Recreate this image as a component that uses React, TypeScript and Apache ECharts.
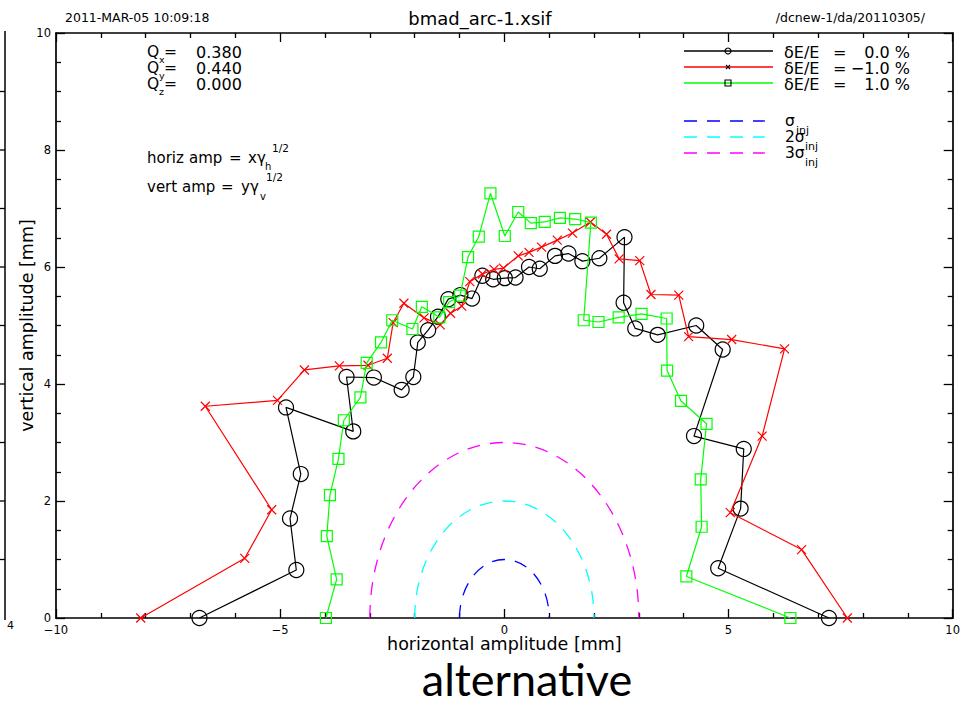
import React, { useEffect, useRef } from "react";
import * as echarts from "echarts";

// ---- data ----
const nominalPts: [number, number][] = [
  [-6.8, 0], [-4.64, 0.82], [-4.78, 1.7], [-4.54, 2.46], [-4.87, 3.6], [-3.37, 3.19],
  [-3.52, 4.12], [-2.91, 4.11], [-2.29, 3.9], [-2.03, 4.12], [-1.93, 4.71], [-1.7, 4.92],
  [-1.48, 5.15], [-1.25, 5.45], [-0.98, 5.52], [-0.72, 5.46], [-0.49, 5.85], [-0.25, 5.79],
  [0.01, 5.81], [0.25, 5.82], [0.55, 6.0], [0.79, 5.97], [1.13, 6.19], [1.43, 6.23],
  [1.74, 6.1], [2.12, 6.15], [2.68, 6.51], [2.66, 5.39], [2.92, 4.95], [3.42, 4.84],
  [4.28, 5.0], [4.87, 4.59], [4.23, 3.11], [5.34, 2.89], [5.27, 1.87], [4.77, 0.85], [7.24, 0],
];
const minusPts: [number, number][] = [
  [-8.11, 0], [-5.79, 1.02], [-5.19, 1.85], [-6.67, 3.62], [-5.06, 3.72], [-4.46, 4.24],
  [-3.68, 4.31], [-3.04, 4.32], [-2.61, 4.44], [-2.48, 5.05], [-2.24, 5.38], [-1.79, 5.13],
  [-1.43, 5.01], [-1.2, 5.21], [-0.95, 5.33], [-0.77, 5.75], [-0.49, 5.88], [-0.23, 5.96],
  [-0.02, 5.98], [0.31, 6.19], [0.55, 6.25], [0.83, 6.34], [1.18, 6.46], [1.52, 6.58],
  [1.92, 6.77], [2.28, 6.56], [2.56, 6.14], [3.02, 6.11], [3.27, 5.53], [3.89, 5.52],
  [4.11, 4.81], [5.07, 4.76], [6.25, 4.6], [5.75, 3.11], [5.04, 1.8], [6.63, 1.17], [7.65, 0],
];
const plusPts: [number, number][] = [
  [-3.98, 0], [-3.74, 0.66], [-3.96, 1.4], [-3.89, 2.1], [-3.7, 2.72], [-3.58, 3.38],
  [-3.21, 3.77], [-3.07, 4.36], [-2.75, 4.71], [-2.5, 5.09], [-2.05, 4.94], [-1.84, 5.32],
  [-1.45, 5.14], [-1.23, 5.4], [-0.99, 5.51], [-0.81, 6.17], [-0.57, 6.52], [-0.31, 7.26],
  [0.01, 6.53], [0.31, 6.94], [0.59, 6.75], [0.9, 6.77], [1.24, 6.84], [1.58, 6.82],
  [1.93, 6.76], [1.77, 5.09], [2.1, 5.06], [2.55, 5.14], [3.06, 5.2], [3.62, 5.12],
  [3.63, 4.23], [3.94, 3.71], [4.51, 3.32], [4.38, 2.37], [4.4, 1.56], [4.06, 0.71], [6.38, 0],
];
const sigmaRadii = [1, 2, 3];
const sigmaLabels = ["", "2", "3"];
const sigmaColors = ["#0000ff", "#00ffff", "#ff00ff"];
const seriesLabels = ["0.0 %", "\u22121.0 %", "1.0 %"];
const seriesColors = ["#000000", "#ff0000", "#00ff00"];
const tuneLabels = ["x", "y", "z"];
const tuneValues = ["0.380", "0.440", "0.000"];
const xRange = { min: -10, max: 10, interval: 5, minorSplit: 5 };
const yRange = { min: 0, max: 10, interval: 2, minorSplit: 4 };

const FONT = "DejaVu Sans";

function txt(text: string, x: number, y: number, size: number, extra: any = {}) {
  const align = extra.align || "left";
  const valign = extra.valign || "middle";
  const style: any = {
    text,
    fontSize: size,
    fontFamily: extra.family || FONT,
    fontWeight: extra.weight || "normal",
    fill: extra.color || "#000",
    align,
    verticalAlign: valign,
    textAlign: align,
    textVerticalAlign: valign,
    lineHeight: extra.lineHeight || Math.round(size * 0.9),
  };
  return { type: "text", x, y, silent: true, style };
}
function ln(x1: number, y1: number, x2: number, y2: number, stroke: string, extra: any = {}) {
  return {
    type: "line",
    silent: true,
    shape: { x1, y1, x2, y2 },
    style: { stroke, lineWidth: extra.width || 1.3, lineDash: extra.dash || null },
  };
}

export default function App() {
  const ref = useRef<HTMLDivElement>(null);
  useEffect(() => {
    document.body.style.margin = "0";
    if (!ref.current) return;
    const chart = echarts.init(ref.current, null, { renderer: "svg" });

    const fmt = (v: number) => (v < 0 ? "\u2212" + Math.abs(v) : String(v));
    const axisCommon = {
      type: "value",
      splitLine: { show: false },
      axisLine: { show: true, onZero: false, lineStyle: { color: "#000", width: 1.7 } },
      axisTick: { show: true, inside: true, length: 9, lineStyle: { color: "#000", width: 1.3 } },
    };
    const xCommon = {
      ...axisCommon,
      min: xRange.min,
      max: xRange.max,
      interval: xRange.interval,
      minorTick: { show: true, splitNumber: xRange.minorSplit, length: 5, lineStyle: { color: "#000", width: 1.3 } },
    };
    const yCommon = {
      ...axisCommon,
      min: yRange.min,
      max: yRange.max,
      interval: yRange.interval,
      minorTick: { show: true, splitNumber: yRange.minorSplit, length: 5, lineStyle: { color: "#000", width: 1.3 } },
    };
    const labelStyle = { color: "#000", fontFamily: FONT, fontSize: 11.5, formatter: fmt };

    const crossPath = "path://M0,0L10,10M10,0L0,10";
    const mkSeries = (data: [number, number][], idx: number) => {
      const color = seriesColors[idx];
      const symbol = idx === 0 ? "circle" : idx === 1 ? crossPath : "rect";
      const size = idx === 0 ? 15 : idx === 1 ? 9 : 11;
      return {
        type: "line",
        data,
        clip: false,
        symbol,
        symbolSize: size,
        showAllSymbol: true,
        lineStyle: { color, width: 1.2 },
        itemStyle: { color: idx === 1 ? color : "rgba(0,0,0,0)", borderColor: color, borderWidth: 1.2 },
        emphasis: { disabled: true },
        z: 3 + idx,
      };
    };

    const graphic: any[] = [];
    // fragment of neighbouring plot at left edge
    graphic.push(ln(5, 31, 5, 620, "#000", { width: 1.5 }));
    for (let k = 1; k <= 9; k++) {
      const y = 618 - k * 58.5;
      graphic.push(ln(0, y, 5, y, "#000", { width: 1.3 }));
    }
    graphic.push(txt("4", 7, 625, 11));
    // header texts
    graphic.push(txt("2011-MAR-05 10:09:18", 65, 17, 12.5));
    graphic.push(txt("bmad_arc-1.xsif", 480, 18, 18, { align: "center" }));
    graphic.push(txt("/dcnew-1/da/20110305/", 925, 17, 12.5, { align: "right" }));
    // tunes
    tuneLabels.forEach((s, i) => {
      const y = 52 + i * 16;
      graphic.push(txt("Q", 147, y, 15.5));
      graphic.push(txt(s, 159, y + 7, 9.5));
      graphic.push(txt("=", 164, y, 15.5));
      graphic.push(txt(tuneValues[i], 196, y, 16));
    });
    // amplitude definitions
    graphic.push(txt("horiz", 147, 158, 15));
    graphic.push(txt("amp", 189, 158, 15));
    graphic.push(txt("=", 229, 158, 15));
    graphic.push(txt("x\u03b3", 248, 158, 15));
    graphic.push(txt("h", 265, 166, 10));
    graphic.push(txt("1/2", 272, 148, 10.5));
    graphic.push(txt("vert", 147, 187, 15));
    graphic.push(txt("amp", 182, 187, 15));
    graphic.push(txt("=", 221, 187, 15));
    graphic.push(txt("y\u03b3", 241, 187, 15));
    graphic.push(txt("v", 260, 196, 10));
    graphic.push(txt("1/2", 266, 177, 10.5));
    // legend for energy offsets
    seriesColors.forEach((c, i) => {
      const y = 51 + i * 16;
      graphic.push(ln(684, y, 773, y, c, { width: 1.3 }));
      if (i === 0) {
        graphic.push({ type: "circle", silent: true, shape: { cx: 728, cy: y, r: 3 }, style: { fill: "none", stroke: "#000", lineWidth: 1.1 } });
      } else if (i === 1) {
        graphic.push(ln(726, y - 2, 730, y + 2, "#000", { width: 1.1 }));
        graphic.push(ln(730, y - 2, 726, y + 2, "#000", { width: 1.1 }));
      } else {
        graphic.push({ type: "rect", silent: true, shape: { x: 725, y: y - 3, width: 6, height: 6 }, style: { fill: "none", stroke: "#000", lineWidth: 1.1 } });
      }
      graphic.push(txt("\u03b4E/E", 784, y + 1, 16));
      graphic.push(txt("=", 833, y + 1, 16));
      graphic.push(txt(seriesLabels[i], 910, y + 1, 16, { align: "right" }));
    });
    // legend for injection sigmas
    sigmaColors.forEach((c, i) => {
      const y = 121 + i * 16;
      graphic.push(ln(684, y, 765, y, c, { width: 1.3, dash: [13, 10] }));
      const pre = sigmaLabels[i] + "\u03c3";
      graphic.push(txt(pre, 785, y, 15.5));
      graphic.push(txt("inj", i === 0 ? 796 : 805, y + 9, 11));
    });
    // bottom caption
    graphic.push(txt("alternative", 527, 679, 45, { align: "center", family: "Lato", lineHeight: 40 }));

    chart.setOption({
      animation: false,
      backgroundColor: "#fff",
      grid: { left: 56, right: 10, top: 33, bottom: 89, containLabel: false },
      xAxis: [
        {
          ...xCommon,
          position: "bottom",
          axisLabel: { ...labelStyle, margin: 6 },
          name: "horizontal amplitude [mm]",
          nameLocation: "middle",
          nameGap: 17,
          nameMoveOverlap: false,
          nameTextStyle: { color: "#000", fontFamily: FONT, fontSize: 17.5, lineHeight: 17, verticalAlign: "top" },
        },
        { ...xCommon, position: "top", axisLabel: { show: false } },
      ],
      yAxis: [
        {
          ...yCommon,
          position: "left",
          axisLabel: { ...labelStyle, margin: 5 },
          name: "vertical amplitude [mm]",
          nameLocation: "middle",
          nameGap: 21,
          nameMoveOverlap: false,
          nameTextStyle: { color: "#000", fontFamily: FONT, fontSize: 17.5, lineHeight: 17 },
        },
        { ...yCommon, position: "right", axisLabel: { show: false } },
      ],
      series: [
        {
          type: "custom",
          clip: true,
          data: sigmaRadii.map((r, i) => [r, i]),
          renderItem: (params: any, api: any) => {
            const r = api.value(0);
            const idx = api.value(1);
            const c = api.coord([0, 0]);
            const e = api.coord([r, r]);
            return {
              type: "ellipse",
              shape: { cx: c[0], cy: c[1], rx: e[0] - c[0], ry: c[1] - e[1] },
              style: { fill: "none", stroke: sigmaColors[idx], lineWidth: 1.3, lineDash: [13, 10] },
            };
          },
          z: 2,
        },
        mkSeries(nominalPts, 0),
        mkSeries(minusPts, 1),
        mkSeries(plusPts, 2),
      ],
      graphic,
    });
    return () => chart.dispose();
  }, []);
  return <div ref={ref} style={{ width: 963, height: 707 }} />;
}
